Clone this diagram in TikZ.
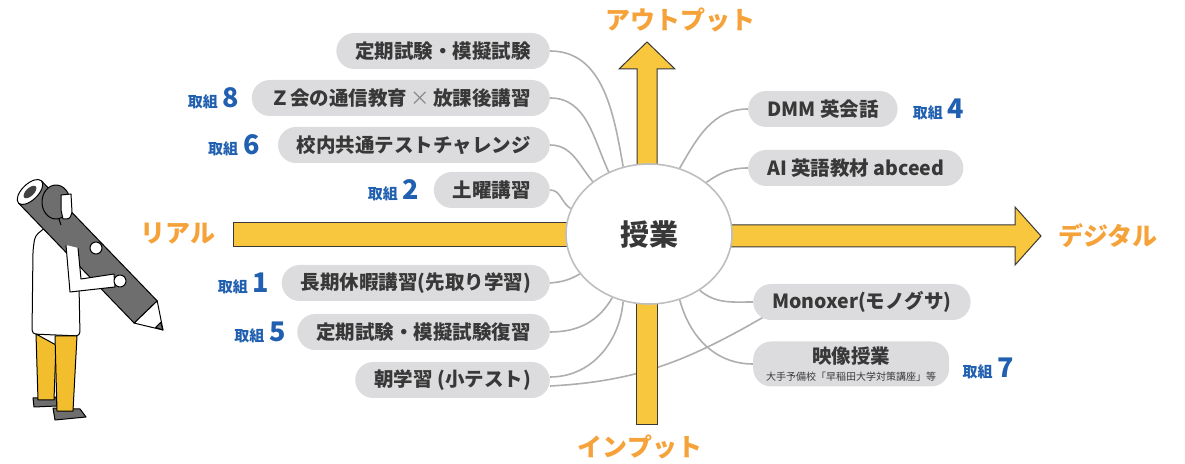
\documentclass[tikz,border=0pt]{standalone}
\usepackage{fontspec}
\setmainfont{Noto Sans CJK JP}
\usetikzlibrary{shapes.geometric,positioning}
\pgfdeclarelayer{background}
\pgfsetlayers{background,main}

\definecolor{arrowfill}{HTML}{F8C73E}
\definecolor{axisorange}{HTML}{F6A23A}
\definecolor{pillgray}{HTML}{DCDCDE}
\definecolor{inkgray}{HTML}{383838}
\definecolor{linkgray}{HTML}{AEAEAE}
\definecolor{tagblue}{HTML}{2160B0}
\definecolor{pencilgray}{HTML}{6E6E6E}
\definecolor{pantsyellow}{HTML}{F3BE2E}

% blue "取組 n" marker
\newcommand{\tagno}[1]{{\fontsize{15}{15}\selectfont 取組}\hspace{5pt}{\fontsize{27}{27}\selectfont #1}}

\begin{document}
\begin{tikzpicture}[x=1pt,y=1pt,
	pill/.style={fill=pillgray, rounded corners=18pt, minimum height=36pt, inner xsep=19pt, inner ysep=0pt,
		text=inkgray, font=\fontsize{19.5}{19.5}\selectfont\bfseries},
	tag/.style={text=tagblue, font=\bfseries, inner sep=0pt},
	axislabel/.style={text=axisorange, font=\fontsize{25}{25}\selectfont\bfseries},
	link/.style={draw=linkgray, line width=1.6pt},
	bar/.style={fill=arrowfill, draw=inkgray, line width=1pt, line join=miter}]
	\useasboundingbox (0,0) rectangle (1185,463);

	\node[ellipse, draw=linkgray!80, line width=1.6pt, fill=white, minimum width=166pt, minimum height=140pt,
		inner sep=0pt, text=inkgray, font=\fontsize{29}{29}\selectfont\bfseries] (hub) at (649,229) {授業};

	% left column
	\node[pill, anchor=east] (exam) at (550,412) {定期試験・模擬試験};
	\node[pill, anchor=east] (zkai) at (550,365) {Ｚ会の通信教育\,{\mdseries\color{inkgray!60}×}\,放課後講習};
	\node[pill, anchor=east] (common) at (550,318) {校内共通テストチャレンジ};
	\node[pill, anchor=east] (sat) at (550,273) {土曜講習};
	\node[pill, anchor=east] (break) at (550,180) {長期休暇講習(先取り学習)};
	\node[pill, anchor=east] (review) at (550,131) {定期試験・模擬試験復習};
	\node[pill, anchor=east] (morning) at (550,83) {朝学習 (小テスト)};

	% right column
	\node[pill, anchor=west] (dmm) at (748,354) {DMM 英会話};
	\node[pill, anchor=west] (abceed) at (748,295) {AI 英語教材 abceed};
	\node[pill, anchor=west] (monoxer) at (753,161) {Monoxer(モノグサ)};
	\node[pill, anchor=west, minimum height=45pt, inner xsep=13pt, align=center] (video) at (753,99)
		{映像授業\\[-3pt]{\fontsize{10}{10}\selectfont\mdseries 大手予備校「早稲田大学対策講座」等}};

	\node[tag, left=12pt of zkai] (tag8) {\tagno{8}};
	\node[tag, left=18pt of common] (tag6) {\tagno{6}};
	\node[tag, left=14pt of sat] (tag2) {\tagno{2}};
	\node[tag, left=12pt of break] (tag1) {\tagno{1}};
	\node[tag, left=11pt of review] (tag5) {\tagno{5}};
	\node[tag, right=15pt of dmm] (tag4) {\tagno{4}};
	\node[tag, right=13pt of video, yshift=-4pt] (tag7) {\tagno{7}};

	\node[axislabel] (output) at (680,443) {アウトプット};
	\node[axislabel] (input) at (640,16) {インプット};
	\node[axislabel] (real) at (178,229) {リアル};
	\node[axislabel] (digital) at (1108,227) {デジタル};

	\begin{pgfonlayer}{background}
		\draw[link] (exam.east) to[out=0,in=100] (hub.111);
		\draw[link] (zkai.east) to[out=0,in=115] (hub.123);
		\draw[link] (common.east) to[out=0,in=130] (hub.137);
		\draw[link] (sat.east) to[out=0,in=150] (hub.162);
		\draw[link] (break.east) to[out=5,in=210] (hub.210);
		\draw[link] (review.east) to[out=0,in=240] (hub.240);
		\draw[link] ([yshift=3pt]morning.east) to[out=0,in=265] (hub.249);
		\draw[link] ([yshift=-6pt]morning.east) to[out=3,in=210] ([xshift=12pt,yshift=4pt]monoxer.south west);
		\draw[link] (dmm.west) to[out=180,in=60] (hub.65);
		\draw[link] (abceed.west) to[out=180,in=35] (hub.42);
		\draw[link] (monoxer.west) to[out=180,in=320] (hub.312);
		\draw[link] (video.west) to[out=180,in=285] (hub.295);

		% axes
		\draw[bar] (233,216) rectangle (610,240);
		\draw[bar] (690,216) -- (1015,216) -- (1015,198) -- (1041,227) -- (1015,256) -- (1015,238) -- (690,238) -- cycle;
		\draw[bar] (637,270) -- (637,394) -- (619,394) -- (647,421) -- (675,394) -- (657,394) -- (657,270) -- cycle;
		\draw[bar] (636,39) rectangle (657,200);
	\end{pgfonlayer}

	% figure with the pencil
	\begin{scope}[shift={(0,463)}, yscale=-1, line width=1pt, line join=round]
		% coat
		\draw[fill=white, rounded corners=4pt] (35,236) -- (47,226) -- (68,224) -- (78,233) -- (80,336) -- (32,334) -- (33,250) -- cycle;
		% pants and shoes
		\draw[fill=pencilgray] (33,398) -- (56,397) -- (57,406) -- (34,407) -- cycle;
		\draw[fill=pencilgray] (53,408) -- (80,409) -- (86,417) -- (55,420) -- cycle;
		\draw[fill=pantsyellow] (36,334) -- (38,400) -- (54,400) -- (56,345) -- cycle;
		\draw[fill=pantsyellow] (55,336) -- (57,411) -- (73,411) -- (77,336) -- cycle;
		% pencil
		\draw[fill=pencilgray] (41.5,180.9) -- (157.2,300.9) -- (134.2,323.1) -- (18.5,203.1) -- cycle;
		\draw[fill=white] (157.2,300.9) -- (163,330) -- (134.2,323.1) -- cycle;
		\draw[fill=pencilgray] (160.6,322.6) -- (163,330) -- (155.6,327.4) -- cycle;
		\draw[fill=white, rotate around={-44:(30,192)}] (30,192) ellipse (16 and 8);
		\fill[pencilgray!60!black, rotate around={-44:(30,192)}] (30,192) ellipse (8 and 4);
		% head
		\draw[fill=pencilgray] (56,202) ellipse (14 and 17);
		\draw[fill=white] (61,195) -- (71,194) -- (72,212) .. controls (70,219) .. (63,219) -- (61,210) -- cycle;
		\draw (59,219) -- (61,225);
		% arm and hands
		\draw[fill=white] (66,245) -- (70,292) -- (115,287) -- (114,274) -- (81,279) -- (78,248);
		\draw[fill=white] (120,281) circle (6);
		\draw[fill=white] (96,248) circle (6);
	\end{scope}
\end{tikzpicture}
\end{document}
